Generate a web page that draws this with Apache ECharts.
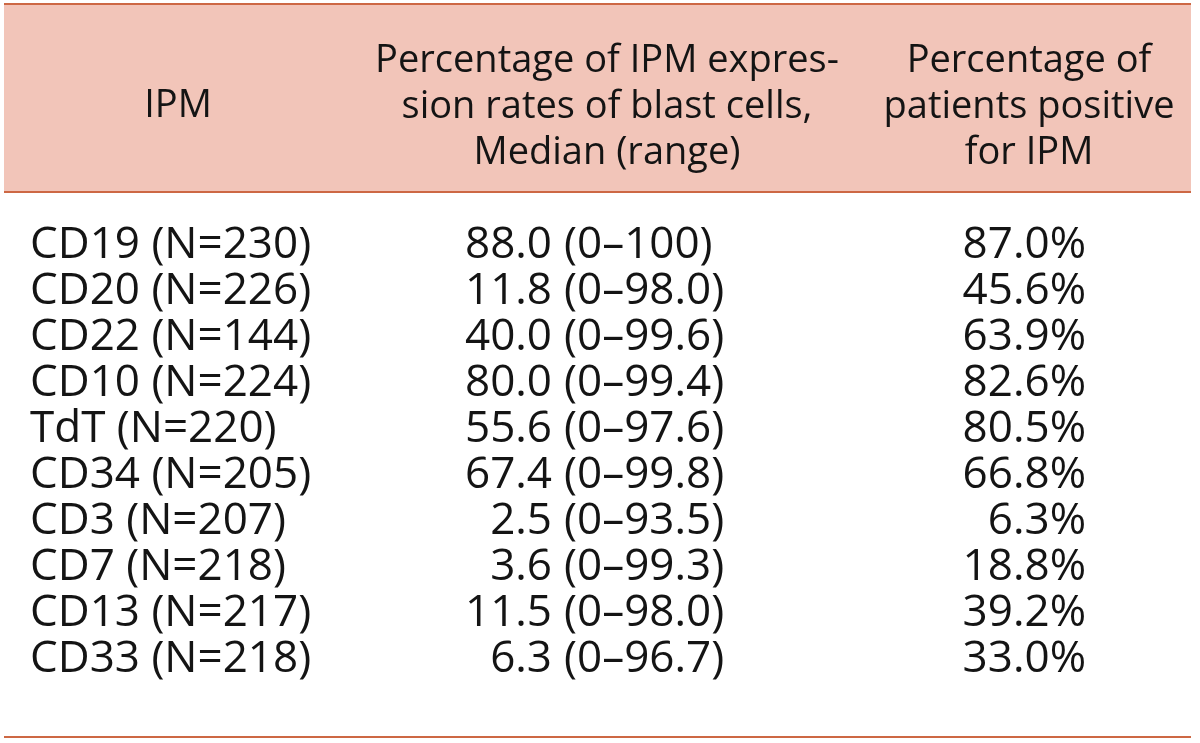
<!DOCTYPE html>
<html>
<head>
<meta charset="utf-8">
<script src="https://cdn.jsdelivr.net/npm/echarts@6/dist/echarts.min.js"></script>
<style>
  html, body { margin: 0; padding: 0; background: #ffffff; }
  #chart { width: 1200px; height: 743px; }
</style>
</head>
<body>
<div id="chart"></div>
<script>
// ---- Data ----
const ipm = ['CD19 (N=230)', 'CD20 (N=226)', 'CD22 (N=144)', 'CD10 (N=224)', 'TdT (N=220)',
             'CD34 (N=205)', 'CD3 (N=207)', 'CD7 (N=218)', 'CD13 (N=217)', 'CD33 (N=218)'];
const medianRate = [88.0, 11.8, 40.0, 80.0, 55.6, 67.4, 2.5, 3.6, 11.5, 6.3];
const rangeLow = [0, 0, 0, 0, 0, 0, 0, 0, 0, 0];
const rangeHigh = [100, 98.0, 99.6, 99.4, 97.6, 99.8, 93.5, 99.3, 98.0, 96.7];
const positivePct = [87.0, 45.6, 63.9, 82.6, 80.5, 66.8, 6.3, 18.8, 39.2, 33.0];
const headers = [
  'IPM',
  'Percentage of IPM expres-\nsion rates of blast cells,\nMedian (range)',
  'Percentage of\npatients positive\nfor IPM'
];

// ---- Layout / style ----
const FONT = '"Open Sans", "Noto Sans", sans-serif';
const HFS = 38;
const FS = 44;
const TXT = '#141414';
const RULE = '#cd6844';
const HEAD_BG = '#f2c5b9';

function fmt(v) { return v === 100 ? '100' : v.toFixed(1); }

const chart = echarts.init(document.getElementById('chart'), null, { renderer: 'canvas' });

const option = {
  animation: false,
  backgroundColor: '#ffffff',
  grid: { left: 0, right: 0, top: 222, bottom: 61 },
  xAxis: { type: 'value', min: 0, max: 1200, show: false },
  yAxis: { type: 'category', data: ipm, inverse: true, show: false },
  graphic: [
    { type: 'rect', shape: { x: 4, y: 4, width: 1187, height: 188 }, style: { fill: HEAD_BG }, z: 0 },
    { type: 'line', shape: { x1: 4, y1: 4, x2: 1191, y2: 4 }, style: { stroke: RULE, lineWidth: 2 }, z: 1 },
    { type: 'line', shape: { x1: 4, y1: 192, x2: 1191, y2: 192 }, style: { stroke: RULE, lineWidth: 2 }, z: 1 },
    { type: 'line', shape: { x1: 4, y1: 737, x2: 1191, y2: 737 }, style: { stroke: RULE, lineWidth: 2 }, z: 1 },
    { type: 'text', x: 178, y: 106, style: { text: headers[0], font: HFS + 'px ' + FONT, fill: TXT, align: 'center', verticalAlign: 'middle' }, z: 2 },
    { type: 'text', x: 607, y: 107, style: { text: headers[1], font: HFS + 'px ' + FONT, fill: TXT, align: 'center', verticalAlign: 'middle', lineHeight: 46 }, z: 2 },
    { type: 'text', x: 1029, y: 107, style: { text: headers[2], font: HFS + 'px ' + FONT, fill: TXT, align: 'center', verticalAlign: 'middle', lineHeight: 46 }, z: 2 }
  ],
  series: [{
    type: 'custom',
    coordinateSystem: 'cartesian2d',
    data: ipm.map((name, i) => [0, i]),
    renderItem: function (params, api) {
      const i = api.value(1);
      const y = api.coord([0, i])[1];
      const xCol1 = api.coord([30, i])[0];
      const xMed = api.coord([552, i])[0];
      const xRange = api.coord([564, i])[0];
      const xPos = api.coord([1086, i])[0];
      const base = { font: FS + 'px ' + FONT, fill: TXT, verticalAlign: 'middle' };
      return {
        type: 'group',
        children: [
          { type: 'text', x: xCol1, y: y, style: Object.assign({ text: ipm[i], align: 'left' }, base) },
          { type: 'text', x: xMed, y: y, style: Object.assign({ text: fmt(medianRate[i]), align: 'right' }, base) },
          { type: 'text', x: xRange, y: y, style: Object.assign({ text: '(' + rangeLow[i] + '–' + fmt(rangeHigh[i]) + ')', align: 'left' }, base) },
          { type: 'text', x: xPos, y: y, style: Object.assign({ text: positivePct[i].toFixed(1) + '%', align: 'right' }, base) }
        ]
      };
    }
  }]
};

chart.setOption(option);
</script>
</body>
</html>
